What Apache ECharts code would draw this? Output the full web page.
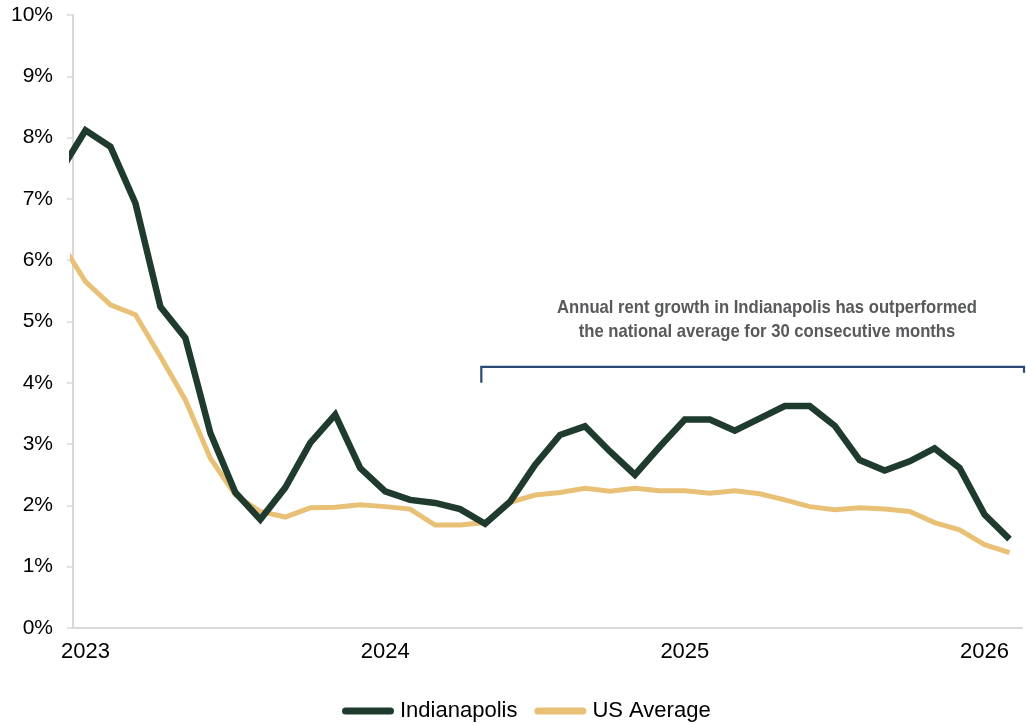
<!DOCTYPE html>
<html>
<head>
<meta charset="utf-8">
<script src="https://cdn.jsdelivr.net/npm/echarts@6/dist/echarts.min.js"></script>
<style>
  html, body { margin: 0; padding: 0; background: #ffffff; }
  #chart { width: 1026px; height: 723px; }
</style>
</head>
<body>
<div id="chart"></div>
<script>
// Monthly observations, Dec 2022 through Feb 2026 (year-over-year rent growth, %)
const months = [
  'Dec 2022',
  'Jan 2023','Feb 2023','Mar 2023','Apr 2023','May 2023','Jun 2023','Jul 2023','Aug 2023','Sep 2023','Oct 2023','Nov 2023','Dec 2023',
  'Jan 2024','Feb 2024','Mar 2024','Apr 2024','May 2024','Jun 2024','Jul 2024','Aug 2024','Sep 2024','Oct 2024','Nov 2024','Dec 2024',
  'Jan 2025','Feb 2025','Mar 2025','Apr 2025','May 2025','Jun 2025','Jul 2025','Aug 2025','Sep 2025','Oct 2025','Nov 2025','Dec 2025',
  'Jan 2026','Feb 2026'
];

const indianapolis = [
  7.45,
  8.12, 7.85, 6.93, 5.24, 4.73, 3.18, 2.21, 1.77, 2.29, 3.02, 3.48, 2.61,
  2.23, 2.09, 2.04, 1.94, 1.70, 2.06, 2.66, 3.15, 3.29, 2.88, 2.50, 2.96,
  3.40, 3.40, 3.22, 3.42, 3.62, 3.62, 3.30, 2.74, 2.57, 2.72, 2.93, 2.61,
  1.85, 1.45
];

const usAverage = [
  6.30,
  5.65, 5.27, 5.11, 4.43, 3.72, 2.77, 2.17, 1.90, 1.81, 1.96, 1.97, 2.01,
  1.98, 1.94, 1.68, 1.68, 1.72, 2.05, 2.17, 2.21, 2.28, 2.23, 2.28, 2.24,
  2.24, 2.20, 2.24, 2.19, 2.09, 1.98, 1.93, 1.96, 1.94, 1.90, 1.72, 1.60,
  1.36, 1.23
];

const yearLabels = ['2023', '2024', '2025', '2026'];
const yearTickMonths = [0, 12, 24, 36];   // months since Jan 2023
const yTicks = [0, 1, 2, 3, 4, 5, 6, 7, 8, 9, 10];

const noteLines = [
  'Annual rent growth in Indianapolis has outperformed',
  'the national average for 30 consecutive months'
];

// x position of each observation, in months since Jan 2023
const toPoints = (vals) => vals.map((v, i) => [i - 1, v]);

const GREEN = '#1e3b2e';
const GOLD = '#e9c176';
const NAVY = '#2b4b74';
const AXIS_GREY = '#d9d9d9';
const legendIcon = 'path://M3.5,0 H48.5 A3.5,3.5 0 0 1 48.5,7 H3.5 A3.5,3.5 0 0 1 3.5,0 Z';

const chart = echarts.init(document.getElementById('chart'), null, { renderer: 'canvas' });

chart.setOption({
  animation: false,
  backgroundColor: '#ffffff',
  textStyle: { fontFamily: 'Liberation Sans, Arial, sans-serif' },
  grid: { left: 73, right: 4, top: 15, bottom: 95, containLabel: false },
  xAxis: {
    type: 'value',
    min: -0.5,
    max: 37.5,
    axisLine: { show: true, onZero: false, lineStyle: { color: AXIS_GREY, width: 2 } },
    axisTick: { show: false },
    splitLine: { show: false },
    axisLabel: {
      customValues: yearTickMonths,
      formatter: (v) => yearLabels[yearTickMonths.indexOf(Math.round(v))] || '',
      color: '#000000',
      fontSize: 22,
      margin: 13
    }
  },
  yAxis: {
    type: 'value',
    min: 0,
    max: 10,
    interval: 1,
    axisLine: { show: true, onZero: false, lineStyle: { color: AXIS_GREY, width: 2 } },
    axisTick: { show: true, length: 6, lineStyle: { color: AXIS_GREY, width: 1.5 } },
    splitLine: { show: false },
    axisLabel: {
      formatter: (v) => yTicks.includes(v) ? v + '%' : '',
      color: '#000000',
      fontSize: 21,
      margin: 20
    }
  },
  legend: {
    left: 337,
    top: 695,
    itemWidth: 52,
    itemHeight: 7,
    itemGap: 17,
    textStyle: { color: '#000000', fontSize: 22, padding: [0, 0, 0, 1] },
    data: [
      { name: 'Indianapolis', icon: legendIcon, itemStyle: { color: GREEN } },
      { name: 'US Average', icon: legendIcon, itemStyle: { color: GOLD } }
    ]
  },
  series: [
    {
      name: 'US Average',
      type: 'line',
      data: toPoints(usAverage),
      showSymbol: false,
      clip: true,
      z: 2,
      lineStyle: { color: GOLD, width: 5, join: 'miter' },
      itemStyle: { color: GOLD }
    },
    {
      name: 'Indianapolis',
      type: 'line',
      data: toPoints(indianapolis),
      showSymbol: false,
      clip: true,
      z: 3,
      lineStyle: { color: GREEN, width: 6.5, join: 'miter' },
      itemStyle: { color: GREEN }
    }
  ]
});

// Bracket spanning the outperformance period, with its note above
const bracketStart = chart.convertToPixel({ gridIndex: 0 }, [15.85, 4.26]);
const bracketFoot = chart.convertToPixel({ gridIndex: 0 }, [15.85, 4.0]);
const rightEdge = chart.getWidth() - 2;

chart.setOption({
  graphic: [
    {
      type: 'polyline',
      shape: {
        points: [
          [bracketStart[0], bracketFoot[1]],
          [bracketStart[0], bracketStart[1]],
          [rightEdge, bracketStart[1]],
          [rightEdge, bracketStart[1] + 6]
        ]
      },
      style: { stroke: NAVY, lineWidth: 2.2, fill: null, lineJoin: 'miter' },
      z: 10
    },
    {
      // condensed headline-style note
      type: 'text',
      x: 767,
      y: 320,
      scaleX: 0.9,
      style: {
        text: noteLines.join('\n'),
        fill: '#58595b',
        font: 'bold 18.5px "Liberation Sans Narrow", "Arial Narrow", sans-serif',
        lineHeight: 24,
        align: 'center',
        verticalAlign: 'middle'
      },
      z: 10
    }
  ]
});
</script>
</body>
</html>
